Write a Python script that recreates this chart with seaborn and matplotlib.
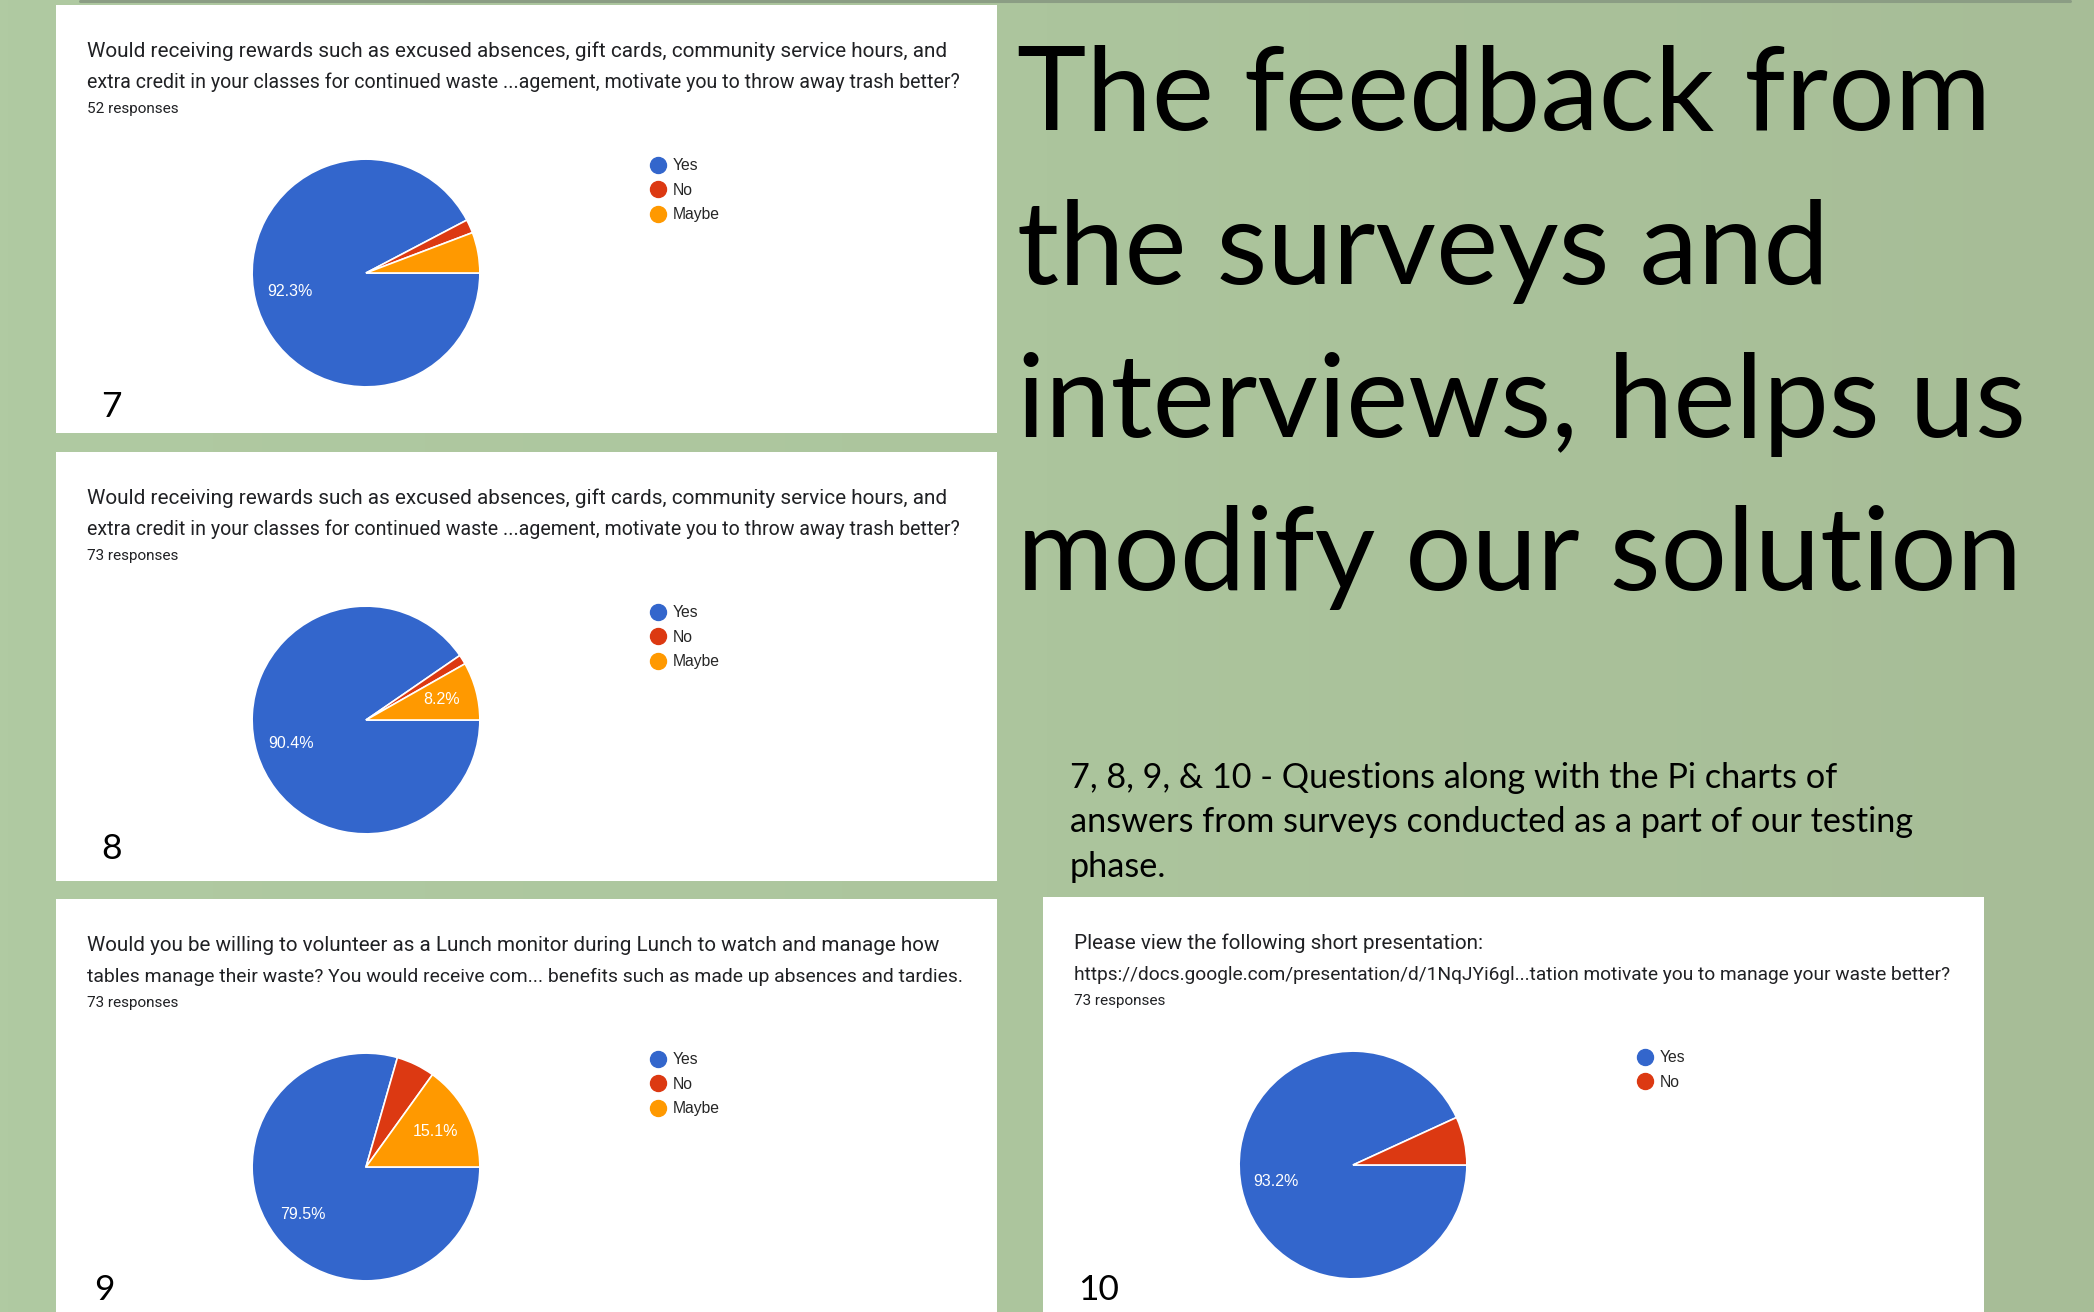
import numpy as np
import matplotlib
matplotlib.use("Agg")
import matplotlib.pyplot as plt
from matplotlib.colors import LinearSegmentedColormap
from matplotlib.lines import Line2D
import seaborn as sns

QUESTION_7 = ["Would receiving rewards such as excused absences, gift cards, community service hours, and",
              "extra credit in your classes for continued waste ...agement, motivate you to throw away trash better?"]
QUESTION_8 = QUESTION_7
QUESTION_9 = ["Would you be willing to volunteer as a Lunch monitor during Lunch to watch and manage how",
              "tables manage their waste? You would receive com... benefits such as made up absences and tardies."]
QUESTION_10 = ["Please view the following short presentation:",
               "https://docs.google.com/presentation/d/1NqJYi6gl...tation motivate you to manage your waste better?"]

RESPONSES = [52, 73, 73, 73]
NUMBERS = ["7", "8", "9", "10"]
ANSWERS_3 = ["Yes", "No", "Maybe"]
ANSWERS_2 = ["Yes", "No"]
COUNTS_7 = [48, 1, 3]
COUNTS_8 = [66, 1, 6]
COUNTS_9 = [58, 4, 11]
COUNTS_10 = [68, 5]

TITLE_LINES = ["The feedback from", "the surveys and", "interviews, helps us", "modify our solution"]
CAPTION_LINES = ["7, 8, 9, & 10 - Questions along with the Pi charts of",
                 "answers from surveys conducted as a part of our testing",
                 "phase."]

# Layout em pixels
W, H = 2094, 1312
DPI = 100

sns.set_style("white")
plt.rcParams['font.family'] = ['Roboto', 'DejaVu Sans']
palette = sns.color_palette(["#3366cc", "#dc3912", "#ff9900"])


def fx(x):
    return x / W


def fy(y):
    return 1 - y / H


def fit_width(fig, txt, width_px):
    # ajusta o tamanho da fonte para ocupar a largura desejada
    renderer = fig.canvas.get_renderer()
    current = txt.get_window_extent(renderer).width
    txt.set_fontsize(txt.get_fontsize() * width_px / current)


def draw_panel(fig, box, question, q_widths, n_resp, labels, counts, number, num_pos):
    left, top, right, bottom = box
    w, h = right - left, bottom - top
    ax = fig.add_axes([fx(left), fy(bottom), w / W, h / H])
    ax.set_xlim(0, w)
    ax.set_ylim(h, 0)
    ax.set_facecolor("white")
    ax.set_xticks([])
    ax.set_yticks([])
    sns.despine(ax=ax, left=True, bottom=True)

    # Pergunta e número de respostas
    for line, base, qw in zip(question, [52, 83], q_widths):
        t = ax.text(31, base, line, fontsize=14.2, color="#202124", va="baseline")
        fit_width(fig, t, qw)
    ax.text(31, 108, f"{n_resp} responses", fontsize=11, color="#202124", va="baseline")
    ax.text(num_pos[0] - left, num_pos[1] - top, number, fontsize=25.5, family="Lato",
            color="black", va="baseline")

    # Pizza
    r = 115
    cx, cy = left + 310, top + 268
    pax = fig.add_axes([fx(cx - r), fy(cy + r), 2 * r / W, 2 * r / H])
    colors = palette[:len(counts)]
    pax.pie(counts, colors=colors, startangle=0, counterclock=False, radius=1,
            autopct=lambda p: f"{p:.1f}%" if p > 7.5 else "", pctdistance=0.69,
            wedgeprops=dict(edgecolor="white", linewidth=1.2),
            textprops=dict(color="white", fontsize=11.5, family="Liberation Sans"))
    pax.set_xlim(-1.01, 1.01)
    pax.set_ylim(-1.01, 1.01)
    pax.set_aspect("equal")
    pax.axis("off")

    # Legenda
    handles = [Line2D([], [], marker="o", linestyle="none", markersize=11.5,
                      markerfacecolor=c, markeredgecolor=c) for c in colors]
    ax.legend(handles, labels, loc="upper left", bbox_to_anchor=(594, 153),
              bbox_transform=ax.transData, frameon=False,
              handlelength=1.0, handletextpad=0.45, labelspacing=0.62,
              borderpad=0, borderaxespad=0, prop=dict(family="Liberation Sans", size=11.3))


fig = plt.figure(figsize=(W / DPI, H / DPI), dpi=DPI)

# Fundo verde com leve gradiente
bg = fig.add_axes([0, 0, 1, 1])
cmap = LinearSegmentedColormap.from_list("sage", ["#b0caa2", "#acc59d", "#a7bd97"])
bg.imshow(np.linspace(0, 1, 256)[None, :], aspect="auto", cmap=cmap, extent=[0, 1, 0, 1])
bg.axis("off")
fig.add_artist(Line2D([fx(80), fx(2070)], [fy(1), fy(1)], color="#8b9d84", linewidth=2.2))

boxes = [(56, 5, 997, 433), (56, 452, 997, 881), (56, 899, 997, 1312), (1043, 897, 1984, 1312)]
num_positions = [(101, 417), (101, 859), (94, 1300), (1078, 1300)]
question_widths = [(862, 878), (862, 878), (858, 878), (412, 879)]
questions = [QUESTION_7, QUESTION_8, QUESTION_9, QUESTION_10]
labels_list = [ANSWERS_3, ANSWERS_3, ANSWERS_3, ANSWERS_2]
counts_list = [COUNTS_7, COUNTS_8, COUNTS_9, COUNTS_10]
for box, q, qw, n, labs, cnt, num, npos in zip(boxes, questions, question_widths, RESPONSES,
                                               labels_list, counts_list, NUMBERS, num_positions):
    draw_panel(fig, box, q, qw, n, labs, cnt, num, npos)

# Título grande
for i, line in enumerate(TITLE_LINES):
    fig.text(fx(1017), fy(130 + i * 153.5), line, fontsize=84.5, family="Lato",
             color="black", va="baseline")

# Legenda explicativa
for i, line in enumerate(CAPTION_LINES):
    fig.text(fx(1070), fy(788 + i * 44.5), line, fontsize=24.7, family="Lato",
             color="black", va="baseline")

fig.savefig("out.png", dpi=DPI)
